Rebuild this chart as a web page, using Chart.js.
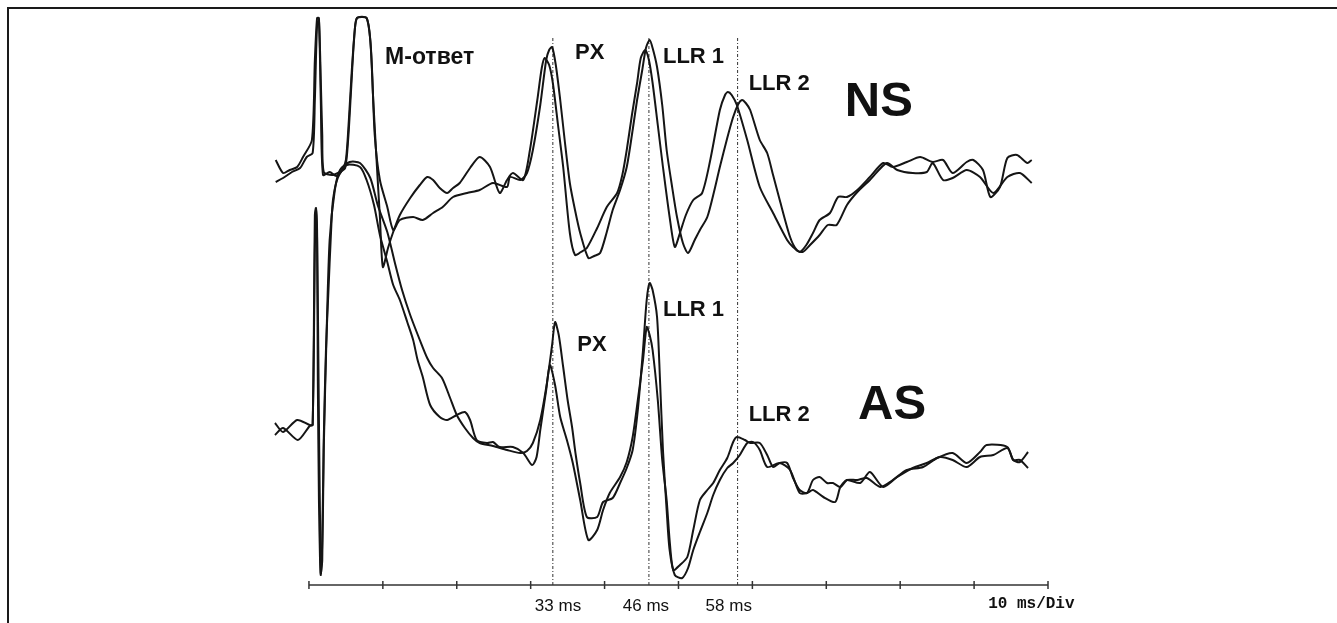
<!DOCTYPE html>
<html lang="ru">
<head>
    <meta charset="UTF-8">
    <title>NS / AS</title>
    <script src="https://cdn.jsdelivr.net/npm/chart.js"></script>
    <style>
        body {
            margin: 0;
            background: #ffffff;
        }
        .wrap {
            position: relative;
            width: 1337px;
            height: 623px;
            overflow: hidden;
        }
        .frame {
            position: absolute;
            left: 7px;
            top: 7px;
            right: 0;
            bottom: 0;
            border-top: 2px solid #1a1a1a;
            border-left: 2px solid #1a1a1a;
            pointer-events: none;
        }
        canvas {
            position: absolute;
            left: 0;
            top: 0;
        }
    </style>
</head>
<body>
<div class="wrap">
    <canvas id="emg"></canvas>
    <div class="frame"></div>
</div>

<script>
    // time in ms after the stimulus, amplitude in arbitrary units (0 = time axis)
    const nsA_t = [-4.5,-3.5,-2.6,-1.6,-0.8,0.4,0.8,1.1,1.35,1.6,1.9,2.8,3.7,4.5,5.0,5.4,5.8,6.2,6.5,7.8,8.3,8.7,9.2,9.6,10.0,10.7,11.4,12.3,13.7,15.0,16.0,16.8,17.7,18.7,19.5,20.4,21.8,23.1,24.5,25.8,26.8,27.6,29.0,29.9,30.9,31.5,31.9,32.5,33.0,33.7,34.4,35.3,36.0,36.8,37.6,39.0,40.3,41.7,42.4,43.0,43.7,44.4,44.9,45.5,46.0,46.5,47.2,47.9,48.8,49.5,50.2,51.0,52.0,53.2,54.3,55.6,56.3,56.7,57.2,57.9,59.3,61.0,62.8,64.7,65.5,66.4,67.3,68.2,69.1,70.5,71.6,72.8,74.2,75.9,77.7,79.0,80.9,82.7,84.4,85.8,87.1,89.0,89.9,91.2,92.2,93.5,94.5,95.8,97.2,97.8];
    const nsA_v = [42.5,41.2,41.5,41.8,42.8,44.5,52.5,56.7,56.7,48.5,41.0,41.3,40.9,41.5,42.5,46.5,51.5,55.5,56.7,56.7,54.5,48.5,41.8,36.8,31.8,33.7,35.3,37.0,38.7,40.0,40.8,40.5,39.7,39.2,39.7,40.2,41.7,42.8,41.8,39.2,40.5,41.2,40.5,43.5,48.5,51.7,52.7,52.0,50.2,46.0,41.8,35.2,33.0,33.3,33.7,35.7,37.8,39.2,41.0,43.5,47.0,50.2,52.7,53.5,52.5,50.2,46.0,41.8,36.8,33.8,35.2,37.0,38.5,39.2,42.5,47.5,49.0,49.3,49.0,48.0,44.5,39.8,37.2,34.5,33.8,33.3,34.0,35.2,36.5,37.2,38.8,38.8,39.5,40.8,42.2,41.8,42.3,42.8,42.3,42.5,41.2,42.3,42.5,41.5,38.8,39.8,42.7,43.0,42.2,42.5];

    const nsB_t = [-4.5,-3.5,-2.3,-1.2,-0.3,0.5,0.8,1.1,1.35,1.6,1.8,2.0,3.1,4.2,4.9,5.3,5.7,6.1,6.5,7.8,8.4,8.9,9.6,10.6,11.4,12.3,14.1,15.4,16.8,18.1,19.5,21.4,23.1,24.9,26.8,27.2,28.6,29.5,30.3,31.3,32.1,32.5,32.9,33.4,34.0,34.6,35.3,36.0,36.7,37.8,38.6,39.4,40.3,41.1,42.1,43.0,43.8,44.4,45.1,45.6,46.1,46.5,47.1,47.8,48.4,49.1,49.8,50.6,51.3,52.2,52.9,53.9,54.8,55.6,56.6,57.4,58.1,58.6,59.1,59.7,61.0,62.0,62.8,63.7,65.1,66.0,66.8,67.8,69.1,70.2,71.4,72.8,74.2,75.9,78.2,79.6,81.7,83.6,84.4,85.8,87.1,89.0,90.8,92.6,94.5,96.2,97.8];
    const nsB_v = [40.3,40.7,41.3,41.7,42.8,43.2,48.5,56.0,56.5,50.5,45.0,41.3,41.0,41.3,41.7,44.5,49.5,54.5,56.7,56.7,53.5,45.0,40.5,37.8,35.5,36.5,36.8,36.5,37.2,37.8,38.8,39.2,39.5,40.2,39.8,40.8,40.5,41.2,43.5,48.0,52.5,53.5,53.8,52.0,48.5,44.5,40.2,37.5,35.2,32.7,32.9,33.2,35.3,37.5,39.5,41.8,45.5,48.5,51.5,53.7,54.5,53.7,51.8,48.0,43.5,40.0,36.8,34.2,33.2,34.5,35.5,36.8,39.3,41.8,44.7,46.8,48.1,48.5,48.2,47.5,44.5,43.2,41.0,38.5,34.8,33.5,33.3,34.0,35.0,36.0,36.0,38.0,39.3,40.5,42.2,41.5,41.2,41.3,42.2,40.5,40.7,41.5,40.8,39.2,40.8,41.2,40.2];

    const asH_t = [-4.6,-3.5,-1.6,0.1,0.5,0.8,0.95,1.1,1.35,1.5,1.6,1.8,2.0,2.4,2.8,3.5,4.2,5.5,6.9,8.3,9.3,10.6,11.6,12.6,13.7,15.0,16.0,16.8,18.0,19.1,20.0,21.1,22.2,23.1,24.9,26.8,28.6,29.5,30.3,31.3,32.2,32.9,33.3,33.8,34.4,35.0,35.6,36.1,36.7,37.6,39.0,39.8,41.1,42.1,43.0,43.8,44.5,45.2,45.7,46.1,46.5,47.1,47.5,47.9,48.4,48.8,49.5,50.5,51.3,52.0,52.9,53.9,54.7,55.6,56.6,57.4,58.3,59.3,60.1,61.0,62.0,63.7,65.1,66.4,67.4,68.2,69.6,71.2,71.9,72.8,74.6,75.9,77.7,79.6,81.7,83.6,85.4,87.1,89.0,90.8,92.6,94.5,95.3,96.2,97.3];
    const asH_v = [16.2,15.3,16.5,16.0,16.0,37.0,37.7,35.5,16.5,6.5,1.2,2.5,13.5,25.5,34.5,39.5,41.5,42.3,42.2,40.7,38.0,35.3,32.3,29.5,27.0,24.5,22.7,21.7,20.7,18.7,17.0,15.7,14.7,14.2,13.9,13.5,13.2,13.4,14.2,16.5,20.2,24.0,26.3,25.0,21.8,18.5,15.8,13.0,10.2,6.8,6.8,8.3,8.7,10.2,11.7,13.5,17.5,23.5,28.5,30.2,29.5,26.8,20.5,13.5,7.5,3.5,1.0,0.7,1.7,3.5,5.3,7.2,9.0,10.5,11.7,12.2,13.0,14.2,14.3,13.5,11.8,12.2,11.5,9.2,9.2,9.5,8.8,8.3,9.8,10.5,10.2,11.3,9.8,10.8,11.7,12.2,12.8,12.5,11.8,12.8,13.0,13.7,12.5,12.3,13.3];

    const asL_t = [-4.6,-3.5,-1.5,0.1,0.5,0.8,0.95,1.1,1.2,1.35,1.5,1.6,1.8,2.0,2.3,2.6,3.0,3.25,3.9,5.1,6.9,7.8,8.8,9.6,10.6,11.4,12.3,13.3,14.1,14.7,15.4,16.4,17.7,18.7,20.0,21.1,21.8,22.7,24.1,24.9,25.8,27.6,29.0,30.2,30.8,31.3,32.1,32.6,33.3,34.0,34.9,35.7,36.7,37.8,39.0,39.8,40.7,42.1,43.0,43.8,44.5,45.2,45.7,46.1,46.5,47.2,47.8,48.4,48.8,49.3,50.2,51.2,52.0,52.9,53.9,54.7,55.6,56.6,57.4,57.9,59.0,59.7,61.0,62.0,62.8,63.7,64.7,65.5,66.4,67.4,68.2,69.1,70.1,70.9,71.9,72.8,74.2,75.5,77.3,79.0,80.9,83.1,85.0,87.1,89.0,90.8,91.7,94.5,95.3,96.2,97.3];
    const asL_v = [15.0,15.7,14.5,15.9,16.0,33.5,37.5,34.5,20.5,8.5,2.5,1.0,4.5,14.5,23.5,28.8,35.5,38.5,40.7,42.0,41.8,40.5,38.0,35.0,32.3,30.0,28.5,26.3,24.5,22.5,20.8,18.0,16.8,16.5,17.0,17.3,16.5,14.5,14.2,14.3,13.8,13.8,13.2,12.0,12.8,15.5,19.5,22.0,20.0,16.8,14.5,12.2,8.5,4.5,5.5,7.5,9.2,10.8,12.3,14.8,18.5,22.5,25.8,25.0,23.5,18.5,12.5,8.5,4.5,1.5,2.0,2.8,5.5,8.5,9.5,10.2,11.5,12.7,14.3,14.8,14.5,14.2,14.2,13.0,11.8,12.2,12.2,10.7,9.5,9.2,10.5,10.8,10.2,10.2,9.8,10.5,10.5,10.7,9.8,10.5,11.5,11.8,12.7,13.2,12.2,13.3,14.0,13.8,12.5,12.5,11.7];

    // latency markers and time axis
    const markers = [33, 46, 58];
    const markerLabels = ["33 ms", "46 ms", "58 ms"];
    const markerLabelAt = [33.7, 45.6, 56.8];
    const axisTicks = [0, 10, 20, 30, 40, 50, 60, 70, 80, 90, 100];

    const zip = (t, v) => t.map((x, i) => ({ x: x, y: v[i] }));

    const trace = (t, v) => ({
        data: zip(t, v),
        borderColor: "#151515",
        borderWidth: 2,
        tension: 0.25,
        pointRadius: 0,
        showLine: true
    });

    const datasets = [
        trace(nsA_t, nsA_v),
        trace(nsB_t, nsB_v),
        trace(asH_t, asH_v),
        trace(asL_t, asL_v)
    ];

    markers.forEach(m => {
        datasets.push({
            data: [{ x: m, y: 0 }, { x: m, y: 54.7 }],
            borderColor: "#333",
            borderWidth: 1,
            borderDash: [3, 2, 1, 2],
            pointRadius: 0,
            showLine: true
        });
    });

    // time axis line with tick marks every 10 ms
    datasets.push({
        data: axisTicks.map(t => ({ x: t, y: 0 })),
        borderColor: "#333",
        borderWidth: 1.5,
        pointStyle: "line",
        rotation: 90,
        pointRadius: 4,
        pointBorderWidth: 1.5,
        pointBorderColor: "#333",
        showLine: true
    });

    const texts = [
        { text: "М-ответ", x: 10.3, y: 52.7, font: "bold 23px 'Liberation Sans', Arial" },
        { text: "PX", x: 36.0, y: 53.2, font: "bold 22px 'Liberation Sans', Arial" },
        { text: "LLR 1", x: 47.9, y: 52.8, font: "bold 22px 'Liberation Sans', Arial" },
        { text: "LLR 2", x: 59.5, y: 50.1, font: "bold 22px 'Liberation Sans', Arial" },
        { text: "NS", x: 72.5, y: 48.3, font: "bold 49px 'Liberation Sans', Arial" },
        { text: "PX", x: 36.3, y: 24.0, font: "bold 22px 'Liberation Sans', Arial" },
        { text: "LLR 1", x: 47.9, y: 27.5, font: "bold 22px 'Liberation Sans', Arial" },
        { text: "LLR 2", x: 59.5, y: 17.0, font: "bold 22px 'Liberation Sans', Arial" },
        { text: "AS", x: 74.3, y: 18.0, font: "bold 49px 'Liberation Sans', Arial" },
        { text: "10 ms/Div", x: 91.9, y: -1.9, font: "bold 16px 'Liberation Mono', 'Courier New', monospace" }
    ];

    const labelPlugin = {
        id: "labels",
        afterDatasetsDraw(chart) {
            const c = chart.ctx;
            const xs = chart.scales.x, ys = chart.scales.y;
            c.save();
            c.fillStyle = "#111";
            c.textBaseline = "middle";
            c.textAlign = "left";
            texts.forEach(l => {
                c.font = l.font;
                c.fillText(l.text, xs.getPixelForValue(l.x), ys.getPixelForValue(l.y));
            });
            c.textAlign = "center";
            c.font = "17px 'Liberation Sans', Arial";
            markerLabels.forEach((s, i) => {
                c.fillText(s, xs.getPixelForValue(markerLabelAt[i]), ys.getPixelForValue(-2.1));
            });
            c.restore();
        }
    };

    const cv = document.getElementById("emg");
    cv.width = 1337;
    cv.height = 623;

    new Chart(cv, {
        type: "scatter",
        data: { datasets: datasets },
        options: {
            responsive: false,
            animation: false,
            layout: { padding: { left: 272, right: 289, top: 8, bottom: 38 } },
            plugins: { legend: { display: false }, tooltip: { enabled: false } },
            scales: {
                x: { type: "linear", min: -5, max: 100, display: false },
                y: { min: 0, max: 57.7, display: false }
            },
            clip: false
        },
        plugins: [labelPlugin]
    });
</script>
</body>
</html>
